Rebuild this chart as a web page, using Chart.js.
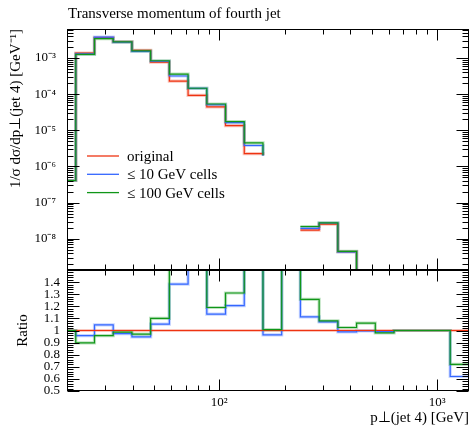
<!DOCTYPE html>
<html>
<head>
<meta charset="utf-8">
<title>Transverse momentum of fourth jet</title>
<script src="https://cdn.jsdelivr.net/npm/chart.js@4.4.1/dist/chart.umd.min.js"></script>
<style>
  body { margin: 0; background: #fff; }
  #wrap { position: relative; width: 470px; height: 430px; }
  #wrap canvas { position: absolute; left: 0; top: 0; }
</style>
</head>
<body>
<div id="wrap">
  <canvas id="mainChart" width="470" height="272"></canvas>
  <canvas id="ratioChart" width="470" height="430"></canvas>
</div>
<script>
// bin edges in GeV (22 log bins)
const binEdges = [18, 21.94, 26.74, 32.59, 39.72, 48.41, 59.0, 71.9, 87.64, 106.8, 130.2,
  158.7, 193.4, 235.7, 287.3, 350.1, 426.7, 520.1, 633.9, 772.6, 941.7, 1147.7, 1398.8];

// 1/sigma dsigma/dpT per bin
const original = [4.1e-7, 1.37e-3, 3.65e-3, 2.82e-3, 1.62e-3, 7.75e-4, 2.31e-4, 9.3e-5, 4.43e-5, 1.35e-5, 2.27e-6,
  2.04e-6, 0, 1.74e-8, 2.55e-8, 4.4e-9, 9e-10, 4e-10, 1.5e-10, 6e-11, 2.5e-11, 1e-11];
const cells10 = [4.1e-7, 1.31e-3, 3.8e-3, 2.75e-3, 1.53e-3, 8.15e-4, 3.18e-4, 1.44e-4, 5.1e-5, 1.63e-5, 3.8e-6,
  1.97e-6, 0, 1.94e-8, 2.73e-8, 4.35e-9, 9e-10, 4e-10, 1.5e-10, 6e-11, 2.5e-11, 6e-12];
const cells100 = [4.1e-7, 1.26e-3, 3.45e-3, 2.78e-3, 1.57e-3, 8.4e-4, 3.6e-4, 1.46e-4, 5.35e-5, 1.74e-5, 4.47e-6,
  2.06e-6, 0, 2.19e-8, 2.75e-8, 4.5e-9, 9.5e-10, 3.9e-10, 1.5e-10, 6e-11, 2.5e-11, 7e-12];

// ratio to original
const ratioOriginal = [1, 1, 1, 1, 1, 1, 1, 1, 1, 1, 1, 1, 1, 1, 1, 1, 1, 1, 1, 1, 1, 1];
const ratio10 = [1, 0.958, 1.047, 0.975, 0.947, 1.053, 1.383, 1.55, 1.136, 1.205, 1.67,
  0.964, 2, 1.113, 1.072, 0.989, 0.997, 0.99, 1, 1, 1, 0.62];
const ratio100 = [1, 0.897, 0.958, 0.986, 0.97, 1.10, 1.56, 1.56, 1.19, 1.31, 1.97,
  1.008, 2, 1.258, 1.08, 1.025, 1.061, 0.98, 1, 1, 1, 0.72];

const seriesNames = ['original', '≤ 10 GeV cells', '≤ 100 GeV cells'];

const yTicks = [1e-8, 1e-7, 1e-6, 1e-5, 1e-4, 1e-3];
const yTickLabels = ['10⁻⁸', '10⁻⁷', '10⁻⁶', '10⁻⁵', '10⁻⁴', '10⁻³'];
const ratioTicks = [0.5, 0.6, 0.7, 0.8, 0.9, 1, 1.1, 1.2, 1.3, 1.4];
const ratioTickLabels = ['0.5', '0.6', '0.7', '0.8', '0.9', '1', '1.1', '1.2', '1.3', '1.4'];
const xTicks = [100, 1000];
const xTickLabels = ['10²', '10³'];

const colors = ['#ee3311', '#3366ff', '#109618'];
const halos = ['rgba(238,51,17,0.28)', 'rgba(51,102,255,0.28)', 'rgba(16,150,24,0.28)'];
const FONT = "'Liberation Serif', 'Times New Roman', serif";

function steps(vals) {
  const pts = vals.map((v, i) => ({ x: binEdges[i], y: v }));
  pts.push({ x: binEdges[vals.length], y: vals[vals.length - 1] });
  return pts;
}

// pale band under each line, then the line; 'top' is the series drawn last
function histSets(list, top) {
  const sets = [];
  list.forEach((vals, k) => {
    const rank = k === top ? -1 : (top === 0 ? -k : 2 - k);
    sets.push({ data: steps(vals), stepped: true, borderColor: halos[k], borderWidth: 3.2,
      pointRadius: 0, fill: false, clip: 0, order: 10 + rank });
    sets.push({ data: steps(vals), stepped: true, borderColor: colors[k], borderWidth: 1.2,
      pointRadius: 0, fill: false, clip: 0, order: 5 + rank });
  });
  return sets;
}

// keep the layout from reserving room for half tick labels
function noPad(s) {
  s.paddingTop = 0; s.paddingBottom = 0; s.paddingLeft = 0; s.paddingRight = 0;
}

// tick marks pointing inward, drawn on all four sides
const frameTicks = {
  id: 'frameTicks',
  afterDatasetsDraw(chart, args, o) {
    const { ctx, chartArea: a, scales } = chart;
    const L = Math.round(a.left) + 0.5, R = Math.round(a.right) - 0.5;
    const T = Math.round(a.top) + 0.5, B = Math.round(a.bottom) - 0.5;
    ctx.save();
    ctx.strokeStyle = '#000';
    ctx.lineWidth = 1;
    ctx.beginPath();
    o.xTicks.forEach(([v, major]) => {
      const px = Math.round(scales.x.getPixelForValue(v)) + 0.5;
      const len = major ? 11 : 5;
      ctx.moveTo(px, T); ctx.lineTo(px, T + len);
      ctx.moveTo(px, B); ctx.lineTo(px, B - len);
    });
    o.yTicks.forEach(([v, major]) => {
      const py = Math.round(scales.y.getPixelForValue(v)) + 0.5;
      const len = major ? 12 : 6;
      ctx.moveTo(L, py); ctx.lineTo(L + len, py);
      ctx.moveTo(R, py); ctx.lineTo(R - len, py);
    });
    ctx.stroke();
    ctx.strokeRect(L, T, R - L, B - T);
    ctx.restore();
  }
};

// title and legend of the upper panel
const headerLegend = {
  id: 'headerLegend',
  afterDraw(chart) {
    const { ctx, chartArea: a } = chart;
    ctx.save();
    ctx.fillStyle = '#000';
    ctx.font = '15px ' + FONT;
    ctx.textBaseline = 'alphabetic';
    ctx.fillText('Transverse momentum of fourth jet', a.left + 1, 18);
    seriesNames.forEach((name, k) => {
      const y = 156 + k * 18.3;
      ctx.strokeStyle = colors[k];
      ctx.lineWidth = 1.3;
      ctx.beginPath();
      ctx.moveTo(87, y); ctx.lineTo(119, y);
      ctx.stroke();
      ctx.fillText(name, 127, y + 5);
    });
    ctx.restore();
  }
};

const xList = [];
for (let e = 1; e <= 3; e++) for (let m = 1; m <= 9; m++) {
  const v = m * Math.pow(10, e);
  if (v >= 20 && v <= 1400) xList.push([v, m === 1]);
}
const yList = [];
for (let e = -9; e <= -3; e++) for (let m = 1; m <= 9; m++) {
  const v = m * Math.pow(10, e);
  if (v >= 1.37e-9 && v <= 6.35e-3) yList.push([v, m === 1]);
}
const rList = [];
for (let i = 25; i <= 75; i++) rList.push([i / 50, i % 5 === 0]);

const common = {
  responsive: false,
  animation: false,
  devicePixelRatio: 1,
  events: [],
  elements: { line: { tension: 0 } },
  plugins: { legend: { display: false }, tooltip: { enabled: false }, title: { display: false } }
};

new Chart(document.getElementById('mainChart'), {
  type: 'line',
  data: { datasets: histSets([original, cells10, cells100], 2) },
  options: Object.assign({}, common, {
    layout: { padding: { top: 29, right: 1, bottom: 2, left: 0 } },
    plugins: Object.assign({}, common.plugins, { frameTicks: { xTicks: xList, yTicks: yList } }),
    scales: {
      x: { type: 'logarithmic', min: 20, max: 1400, display: false },
      y: {
        type: 'logarithmic', min: 1.37e-9, max: 6.35e-3,
        grid: { display: false, drawTicks: false }, border: { display: false },
        afterBuildTicks: s => { s.ticks = yTicks.map(v => ({ value: v })); },
        afterFit: s => { s.width = 67; noPad(s); },
        ticks: { padding: 11, autoSkip: false, color: '#000', font: { family: FONT, size: 13 },
          callback: v => yTickLabels[yTicks.indexOf(v)] },
        title: { display: true, align: 'end', text: '1/σ dσ/dp⊥(jet 4) [GeV⁻¹]', color: '#000',
          font: { family: FONT, size: 15 }, padding: { top: 7, bottom: 0 } }
      }
    }
  }),
  plugins: [frameTicks, headerLegend]
});

new Chart(document.getElementById('ratioChart'), {
  type: 'line',
  data: { datasets: histSets([ratioOriginal, ratio10, ratio100], 0) },
  options: Object.assign({}, common, {
    layout: { padding: { top: 270, right: 1, bottom: 0, left: 0 } },
    plugins: Object.assign({}, common.plugins, { frameTicks: { xTicks: xList, yTicks: rList } }),
    scales: {
      x: {
        type: 'logarithmic', min: 20, max: 1400, position: 'bottom',
        grid: { display: false, drawTicks: false }, border: { display: false },
        afterBuildTicks: s => { s.ticks = xTicks.map(v => ({ value: v })); },
        afterFit: s => { s.height = 39; noPad(s); },
        ticks: { padding: 4, autoSkip: false, maxRotation: 0, color: '#000', font: { family: FONT, size: 13 },
          callback: v => xTickLabels[xTicks.indexOf(v)] },
        title: { display: true, align: 'end', text: 'p⊥(jet 4) [GeV]', color: '#000',
          font: { family: FONT, size: 15 }, padding: { top: 0, bottom: 3 } }
      },
      y: {
        min: 0.5, max: 1.5,
        grid: { display: false, drawTicks: false }, border: { display: false },
        afterBuildTicks: s => { s.ticks = ratioTicks.map(v => ({ value: v })); },
        afterFit: s => { s.width = 67; noPad(s); },
        ticks: { padding: 7, autoSkip: false, color: '#000', font: { family: FONT, size: 13 },
          callback: v => ratioTickLabels[ratioTicks.indexOf(v)] },
        title: { display: true, text: 'Ratio', color: '#000',
          font: { family: FONT, size: 15 }, padding: { top: 14, bottom: 0 } }
      }
    }
  }),
  plugins: [frameTicks]
});
</script>
</body>
</html>
